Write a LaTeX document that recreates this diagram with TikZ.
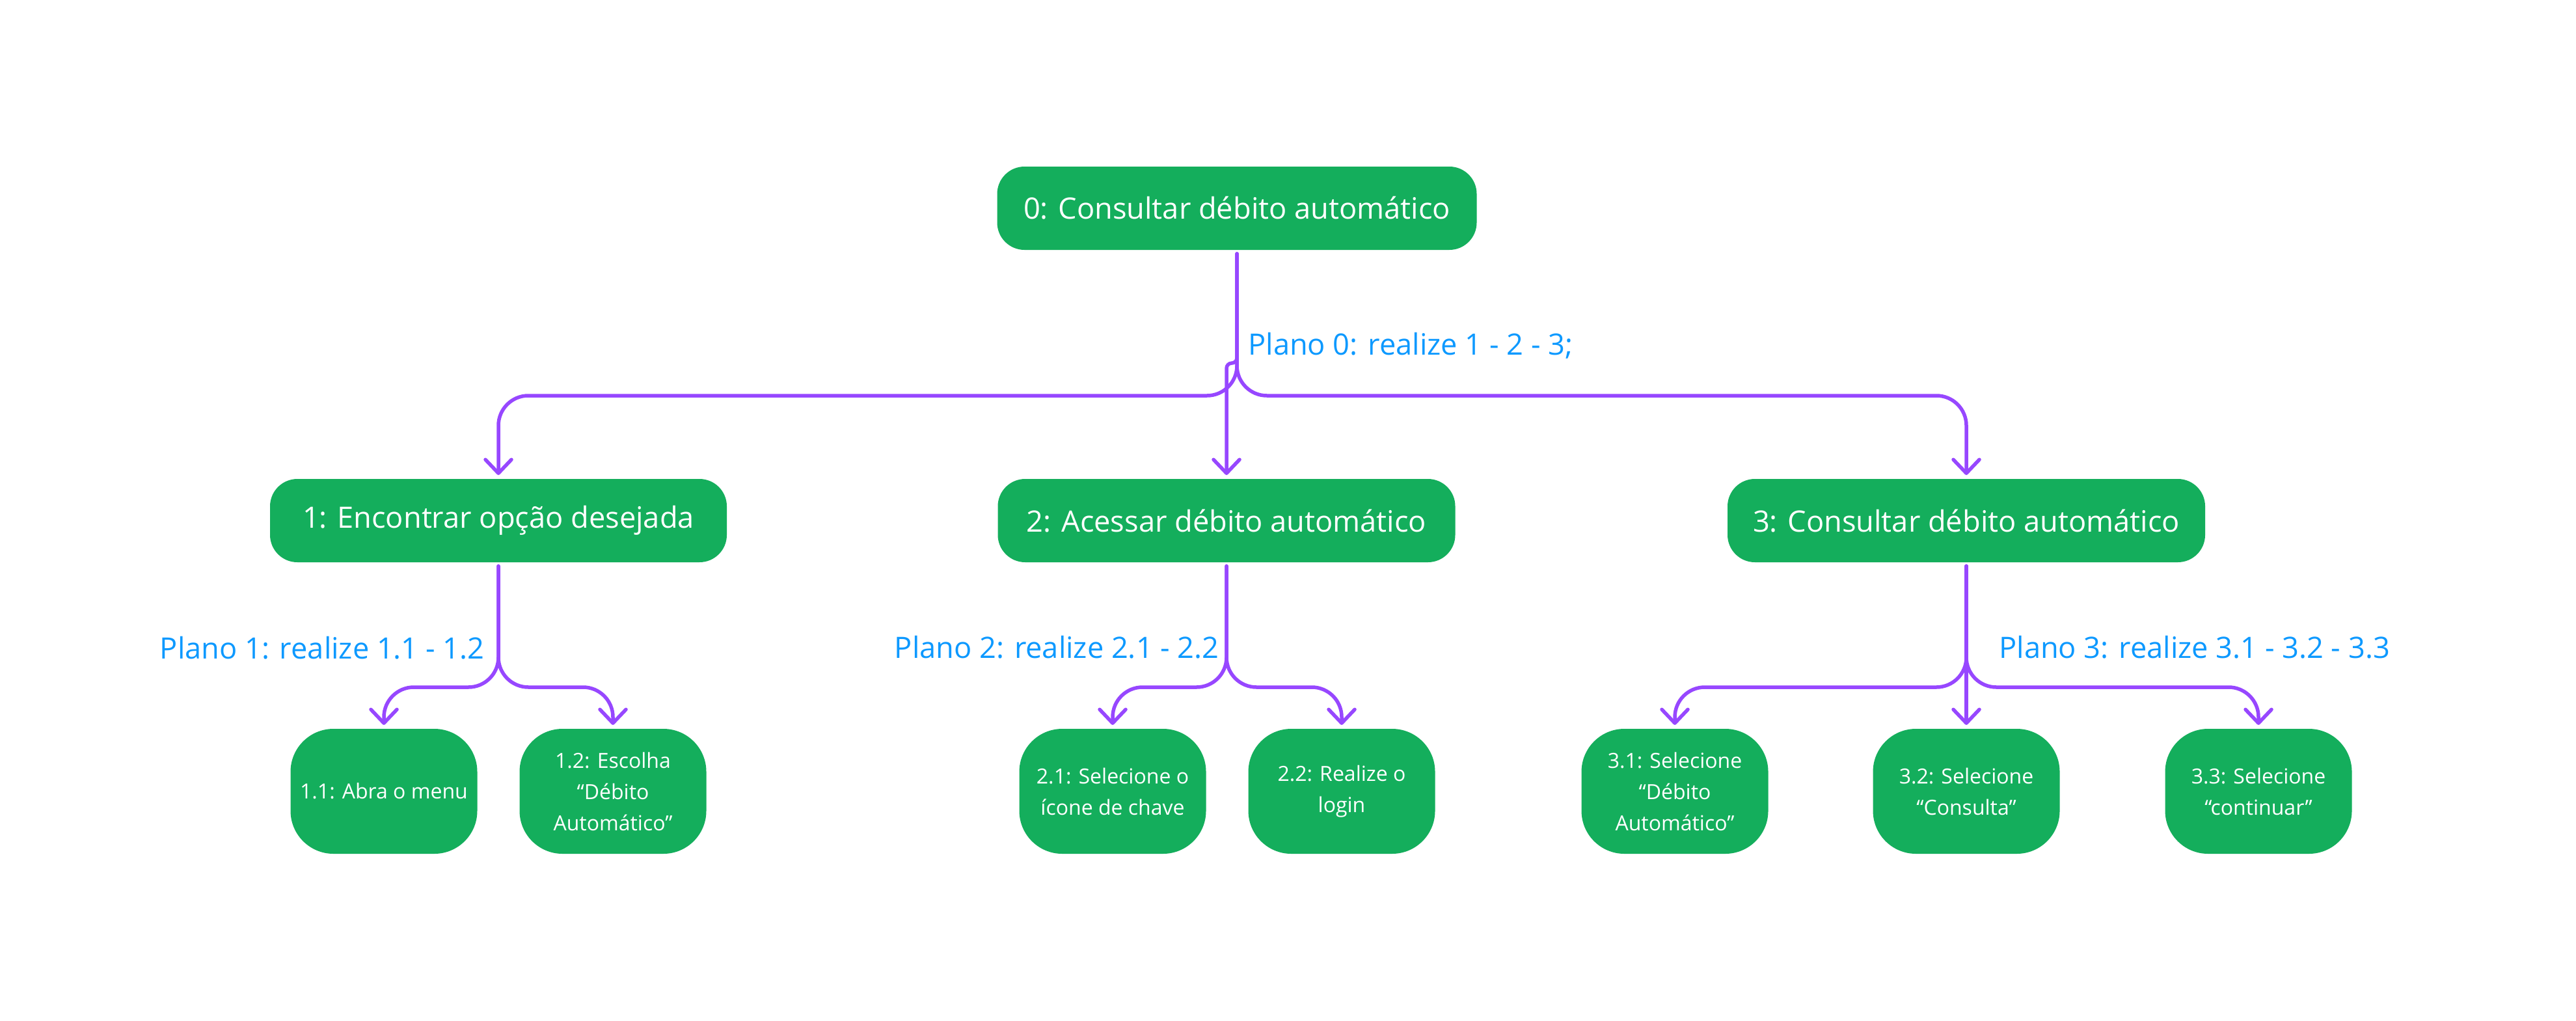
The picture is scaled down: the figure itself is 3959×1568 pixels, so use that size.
\documentclass[tikz,border=0pt]{standalone}
\usepackage{fontspec}
\setmainfont{Open Sans}
\usetikzlibrary{arrows.meta}
\definecolor{figgreen}{HTML}{14AE5C}
\definecolor{figpurple}{HTML}{9747FF}
\definecolor{figblue}{HTML}{0D99FF}
\newcommand{\bigtxt}{\fontsize{22.6}{26}\selectfont}
\newcommand{\smalltxt}{\fontsize{16}{24}\selectfont}
\tikzset{
  bigbox/.style={fill=figgreen, rounded corners=21pt, minimum height=64pt, inner sep=0pt, outer sep=3pt, text=white, font=\bigtxt},
  smallbox/.style={fill=figgreen, rounded corners=33pt, minimum width=143.5pt, minimum height=96pt, inner sep=0pt, outer sep=3pt, text=white, align=center, font=\smalltxt},
  conn/.style={draw=figpurple, line width=2.75pt, line cap=round, line join=round, rounded corners=23pt},
  arr/.style={-{Straight Barb[length=10.5pt,width=20pt,line cap=round,line join=round]}},
  plan/.style={text=figblue, font=\bigtxt, inner sep=0pt}
}
\begin{document}
\begin{tikzpicture}[x=0.5pt,y=-0.5pt]
\fill[white] (0,0) rectangle (3959,1568);
\useasboundingbox (0,0) rectangle (3959,1568);

% level 0 and 1
\node[bigbox, minimum width=368.5pt] (n0) at (1901,320) {0: Consultar débito automático};
\node[bigbox, minimum width=351pt] (n1) at (766,800) {1: Encontrar opção desejada};
\node[bigbox, minimum width=351.5pt] (n2) at (1885,800) {2: Acessar débito automático};
\node[bigbox, minimum width=367pt] (n3) at (3022,800) {3: Consultar débito automático};

% level 2
\node[smallbox] (n11) at (590,1216) {1.1: Abra o menu};
\node[smallbox] (n12) at (942,1216) {1.2: Escolha\\“Débito\\Automático”};
\node[smallbox] (n21) at (1710,1216) {2.1: Selecione o\\ícone de chave};
\node[smallbox] (n22) at (2062,1216) {2.2: Realize o\\login};
\node[smallbox] (n31) at (2574,1216) {3.1: Selecione\\“Débito\\Automático”};
\node[smallbox] (n32) at (3022,1216) {3.2: Selecione\\“Consulta”};
\node[smallbox] (n33) at (3471,1216) {3.3: Selecione\\“continuar”};

% plan labels
\node[plan, anchor=base west] (p0) at (1918,545) {Plano 0: realize 1 - 2 - 3;};
\node[plan, anchor=base east] (p1) at (745,1012) {Plano 1: realize 1.1 - 1.2};
\node[plan, anchor=base east] (p2) at (1874,1011) {Plano 2: realize 2.1 - 2.2};
\node[plan, anchor=base west] (p3) at (3072,1011) {Plano 3: realize 3.1 - 3.2 - 3.3};

% junctions
\coordinate (j0) at (1901,608);
\coordinate (h0) at (1901,558);
\coordinate (j1) at (766,1056);
\coordinate (j2) at (1885,1056);
\coordinate (j3) at (3022,1056);

% level 0 -> 1
\draw[conn,arr] (n0.south) -- (j0) -- (j0 -| n1.north) -- (n1.north);
\draw[conn,arr] (n0.south) -- (j0) -- (j0 -| n3.north) -- (n3.north);
\draw[conn,arr,rounded corners=4pt] (n0.south) -- (h0) -- (h0 -| n2.north) -- (n2.north);

% level 1 -> 2
\draw[conn,arr] (n1.south) -- (j1) -- (j1 -| n11.north) -- (n11.north);
\draw[conn,arr] (n1.south) -- (j1) -- (j1 -| n12.north) -- (n12.north);
\draw[conn,arr] (n2.south) -- (j2) -- (j2 -| n21.north) -- (n21.north);
\draw[conn,arr] (n2.south) -- (j2) -- (j2 -| n22.north) -- (n22.north);
\draw[conn,arr] (n3.south) -- (j3) -- (j3 -| n31.north) -- (n31.north);
\draw[conn,arr] (n3.south) -- (n32.north);
\draw[conn,arr] (n3.south) -- (j3) -- (j3 -| n33.north) -- (n33.north);
\end{tikzpicture}
\end{document}
